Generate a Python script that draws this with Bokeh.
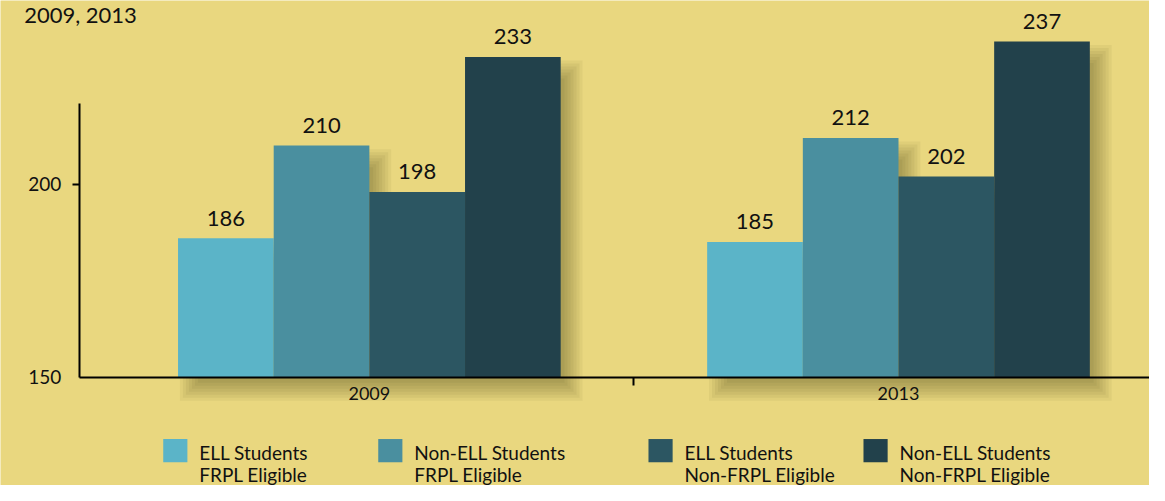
from bokeh.plotting import figure
from bokeh.models import Range1d, FixedTicker, Label
from bokeh.embed import file_html
from bokeh.resources import INLINE
from bokeh.core.properties import value

# ---------------- data ----------------
title_text = "2009, 2013"
years = ["2009", "2013"]
series_line1 = ["ELL Students", "Non-ELL Students", "ELL Students", "Non-ELL Students"]
series_line2 = ["FRPL Eligible", "FRPL Eligible", "Non-FRPL Eligible", "Non-FRPL Eligible"]
ell_frpl = [186, 185]
nonell_frpl = [210, 212]
ell_nonfrpl = [198, 202]
nonell_nonfrpl = [233, 237]
y_ticks = [150, 200]

series_values = [ell_frpl, nonell_frpl, ell_nonfrpl, nonell_nonfrpl]
colors = ["#5BB4C8", "#4A8F9F", "#2C5662", "#22414B"]

BG = "#E9D77F"
FONT = "Lato"
TXT = "#111111"

# ---------------- geometry ----------------
W = 1149
H = 485
SX = 1149 / 1165
SY = 485 / 501
PX_X = 536.5 * SX          # pixels per group unit
PX_Y = 3.985 * SY          # pixels per score point
BASE = 150
BASE_PX = 389 * SY         # pixel row of the baseline
x_start = -(374 * SX) / PX_X
x_end = x_start + W / PX_X
y_end = BASE + BASE_PX / PX_Y
y_start = y_end - H / PX_Y
axis_x = x_start + (80 * SX) / PX_X
bw = 97 / 536.5
n_series = len(series_values)


def px_x(rx):
    """reference pixel column -> data x"""
    return x_start + rx * SX / PX_X


def px_y(ry):
    """reference pixel row -> data y"""
    return y_end - ry * SY / PX_Y


p = figure(width=W, height=H, x_range=Range1d(x_start, x_end),
           y_range=Range1d(y_start, y_end), output_backend="svg",
           toolbar_location=None, title=None,
           min_border_left=0, min_border_right=0,
           min_border_top=0, min_border_bottom=0)
p.background_fill_color = BG
p.border_fill_color = BG
p.outline_line_color = None
p.xgrid.visible = False
p.ygrid.visible = False

# ---- soft drop shadow of each group (stacked translucent outlines) ----
shadow_dx = 12 * SX / PX_X
shadow_dy = 14 * SY / PX_Y
spreads = [-8, -5, -2, 1, 4, 7, 10]
sh_xs, sh_ys = [], []
for g in range(len(years)):
    tops = [series_values[i][g] for i in range(n_series)]
    lefts = [g + (i - 1.5) * bw - bw / 2 for i in range(n_series)]
    rights = [l + bw for l in lefts]
    for e in spreads:
        ex, ey = e / PX_X, e / PX_Y
        bottom = BASE - shadow_dy - ey
        xs = [lefts[0] + shadow_dx - ex, lefts[0] + shadow_dx - ex]
        ys = [bottom, tops[0] - shadow_dy + ey]
        for i in range(n_series - 1):
            bx = rights[i] + shadow_dx + (-ex if tops[i + 1] > tops[i] else ex)
            xs += [bx, bx]
            ys += [tops[i] - shadow_dy + ey, tops[i + 1] - shadow_dy + ey]
        xs += [rights[-1] + shadow_dx + ex, rights[-1] + shadow_dx + ex]
        ys += [tops[-1] - shadow_dy + ey, bottom]
        sh_xs.append(xs)
        sh_ys.append(ys)
p.patches(xs=sh_xs, ys=sh_ys, fill_color="#2a2000", fill_alpha=0.05, line_color=None)

label_gap = 20.8 * SY / PX_Y
for i, vals in enumerate(series_values):
    xs = [g + (i - 1.5) * bw for g in range(len(years))]
    p.quad(left=[x - bw / 2 for x in xs], right=[x + bw / 2 for x in xs],
           top=vals, bottom=[BASE] * len(vals),
           fill_color=colors[i], line_color=None)
    p.text(x=xs, y=[v + label_gap for v in vals], text=[str(v) for v in vals],
           text_font=value(FONT), text_font_size="22px", text_color=TXT,
           text_align="center", text_baseline="middle")

# y axis
ya = p.yaxis[0]
ya.fixed_location = axis_x
ya.ticker = FixedTicker(ticks=y_ticks, minor_ticks=[200])
ya.bounds = (150, 221)
ya.axis_line_color = "black"
ya.axis_line_width = 2
ya.major_tick_out = 0
ya.major_tick_in = 0
ya.minor_tick_out = 7
ya.minor_tick_in = 0
ya.minor_tick_line_color = "black"
ya.minor_tick_line_width = 2
ya.major_label_text_font = FONT
ya.major_label_text_font_size = "19px"
ya.major_label_text_color = TXT
ya.major_label_standoff = 11

# x axis
xa = p.xaxis[0]
xa.fixed_location = BASE
xa.bounds = (axis_x, x_end)
xa.ticker = FixedTicker(ticks=list(range(len(years))), minor_ticks=[0.5])
xa.major_label_overrides = {i: y for i, y in enumerate(years)}
xa.axis_line_color = "black"
xa.axis_line_width = 2
xa.major_tick_out = 0
xa.major_tick_in = 0
xa.minor_tick_out = 8
xa.minor_tick_in = 0
xa.minor_tick_line_color = "black"
xa.minor_tick_line_width = 2
xa.major_label_text_font = FONT
xa.major_label_text_font_size = "18px"
xa.major_label_text_color = TXT
xa.major_label_standoff = 2

p.add_layout(Label(x=24 * SX, y=H - 14, x_units="screen", y_units="screen",
                   text=title_text, text_font=FONT, text_font_size="22px",
                   text_color=TXT, text_baseline="middle", text_align="left"))

# ---------------- legend ----------------
leg_px = [165, 383, 657, 875]
leg_left = [px_x(r) for r in leg_px]
leg_right = [px_x(r + 24.5) for r in leg_px]
text_x = [px_x(r + 36.5) for r in leg_px]
p.quad(left=leg_left, right=leg_right, top=[px_y(453)] * 4, bottom=[px_y(477)] * 4,
       fill_color=colors, line_color=None)
p.text(x=text_x, y=[px_y(466.5)] * 4, text=series_line1,
       text_font=value(FONT), text_font_size="19px", text_color=TXT,
       text_align="left", text_baseline="middle")
p.text(x=text_x, y=[px_y(490)] * 4, text=series_line2,
       text_font=value(FONT), text_font_size="19px", text_color=TXT,
       text_align="left", text_baseline="middle")

open("out.html", "w").write(file_html(p, INLINE))
